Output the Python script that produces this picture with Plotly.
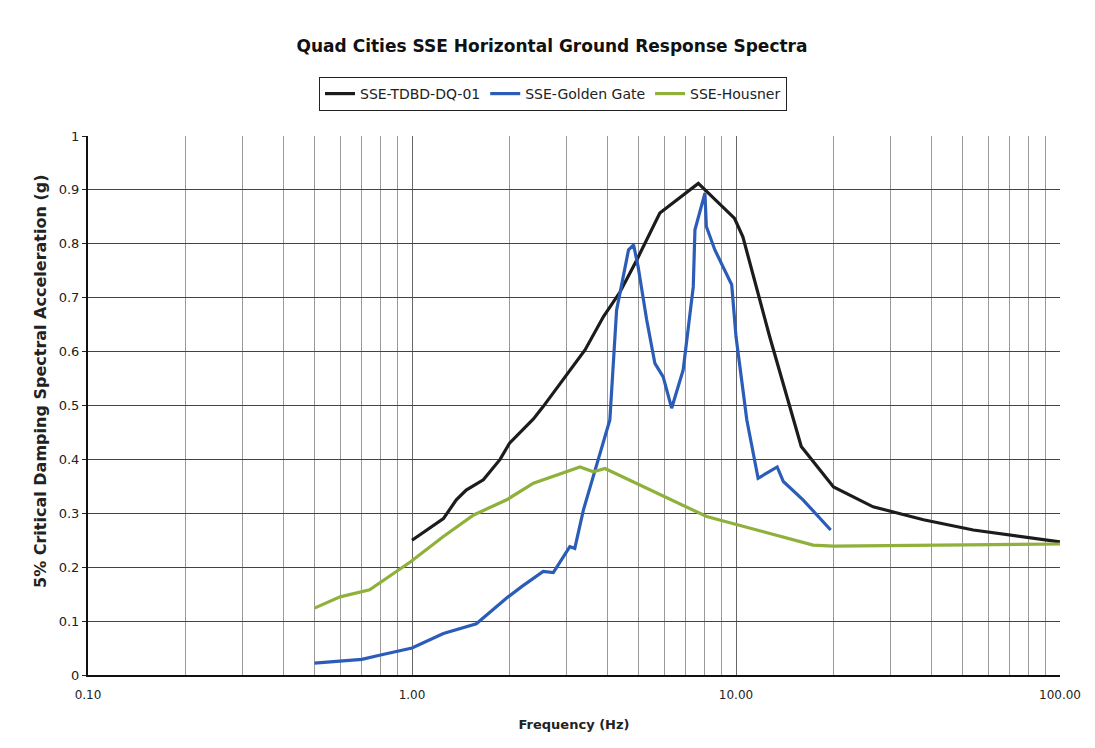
import plotly.graph_objects as go

# ---- data ----
tdbd_f = [1.0, 1.25, 1.37, 1.47, 1.66, 1.87, 2.0, 2.37, 2.54, 3.0, 3.42, 3.9, 4.39, 4.94,
          5.82, 7.65, 9.9, 10.5, 12.7, 15.9, 20, 26.5, 37.9, 54, 77, 100]
tdbd_v = [0.25, 0.29, 0.325, 0.343, 0.362, 0.40, 0.43, 0.475, 0.498, 0.557, 0.603, 0.665,
          0.711, 0.77, 0.857, 0.912, 0.847, 0.813, 0.628, 0.424, 0.349, 0.312, 0.288,
          0.269, 0.257, 0.247]

gg_f = [0.5, 0.7, 0.8, 1.0, 1.25, 1.58, 1.98, 2.18, 2.54, 2.73, 3.07, 3.18, 3.38, 3.63,
        4.08, 4.28, 4.66, 4.83, 4.99, 5.30, 5.62, 5.96, 6.33, 6.87, 7.38, 7.47, 8.02, 8.1,
        8.6, 9.7, 10.0, 10.8, 11.7, 13.4, 14.0, 16.1, 19.6]
gg_v = [0.022, 0.029, 0.037, 0.05, 0.077, 0.095, 0.145, 0.164, 0.192, 0.19, 0.238, 0.235,
        0.306, 0.368, 0.473, 0.677, 0.789, 0.798, 0.757, 0.659, 0.578, 0.553, 0.495, 0.566,
        0.72, 0.826, 0.894, 0.832, 0.789, 0.724, 0.628, 0.473, 0.365, 0.386, 0.359, 0.325,
        0.269]

hous_f = [0.5, 0.6, 0.74, 0.99, 1.25, 1.55, 1.96, 2.37, 3.3, 3.63, 3.94, 5.05, 8.12, 11.6,
          17.3, 20, 100]
hous_v = [0.124, 0.145, 0.158, 0.21, 0.257, 0.297, 0.325, 0.356, 0.386, 0.377, 0.383,
          0.353, 0.294, 0.269, 0.241, 0.239, 0.243]

x_tickvals = [0.1, 1, 10, 100]
x_ticktext = ["0.10", "1.00", "10.00", "100.00"]
y_tickvals = [0, 0.1, 0.2, 0.3, 0.4, 0.5, 0.6, 0.7, 0.8, 0.9, 1]
y_ticktext = ["0", "0.1", "0.2", "0.3", "0.4", "0.5", "0.6", "0.7", "0.8", "0.9", "1"]

FONT = "DejaVu Sans, Liberation Sans, Arial, sans-serif"

fig = go.Figure()
fig.add_trace(go.Scatter(x=tdbd_f, y=tdbd_v, mode="lines", name="SSE-TDBD-DQ-01",
                         line=dict(color="#1c1c1c", width=3.2)))
fig.add_trace(go.Scatter(x=gg_f, y=gg_v, mode="lines", name="SSE-Golden Gate",
                         line=dict(color="#2b5db8", width=3.2)))
fig.add_trace(go.Scatter(x=hous_f, y=hous_v, mode="lines", name="SSE-Housner",
                         line=dict(color="#8fb13c", width=3.2)))

fig.add_annotation(text="<b>5% Critical Damping Spectral Acceleration (g)</b>",
                   textangle=-90, xref="paper", yref="paper",
                   x=(40 - 88) / 972, y=(675 - 381) / 539,
                   xanchor="center", yanchor="middle", showarrow=False,
                   font=dict(size=16, family=FONT, color="#222"))

fig.update_layout(
    width=1095, height=748,
    margin=dict(l=88, r=35, t=136, b=73),
    paper_bgcolor="white", plot_bgcolor="white",
    font=dict(family=FONT, color="#111"),
    title=dict(text="<b>Quad Cities SSE Horizontal Ground Response Spectra</b>",
               x=552 / 1095, xref="container", xanchor="center",
               y=1 - 46 / 748, yref="container", yanchor="middle",
               font=dict(size=17, family=FONT, color="#111")),
    showlegend=True,
    legend=dict(orientation="h", x=(553 - 88) / 972, xanchor="center", xref="paper",
                y=(675 - 77) / 539, yanchor="top", yref="paper",
                bordercolor="#222", borderwidth=1, bgcolor="white",
                font=dict(size=14, family=FONT, color="#222"),
                itemwidth=30, tracegroupgap=0),
    xaxis=dict(type="log", range=[-1, 2],
               tickvals=x_tickvals, ticktext=x_ticktext,
               showgrid=True, gridcolor="#666", gridwidth=1,
               minor=dict(showgrid=True, dtick="D1", gridcolor="#999", gridwidth=1,
                          ticks=""),
               showline=True, linecolor="#111", linewidth=2, mirror=False,
               ticks="", ticklabelstandoff=8,
               tickfont=dict(size=12, family=FONT, color="#222"),
               title=dict(text="<b>Frequency (Hz)</b>", standoff=18,
                          font=dict(size=13, family=FONT, color="#222")),
               zeroline=False),
    yaxis=dict(range=[0, 1], tickvals=y_tickvals, ticktext=y_ticktext,
               showgrid=True, gridcolor="#444", gridwidth=1,
               showline=True, linecolor="#111", linewidth=2,
               ticks="outside", ticklen=4, tickcolor="#222",
               tickfont=dict(size=13, family=FONT, color="#222"),
               zeroline=False),
)

fig.write_html("out.html")
